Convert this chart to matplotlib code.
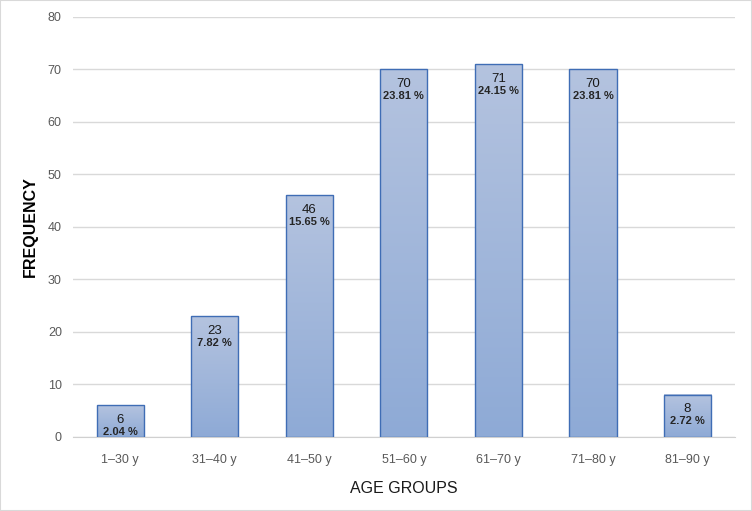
import numpy as np
import matplotlib.pyplot as plt
from matplotlib.colors import LinearSegmentedColormap
from matplotlib.patches import Rectangle

# Datos
grupos = ["1\u201330 y", "31\u201340 y", "41\u201350 y", "51\u201360 y", "61\u201370 y", "71\u201380 y", "81\u201390 y"]
frecuencia = [6, 23, 46, 70, 71, 70, 8]
porcentaje = ["2.04 %", "7.82 %", "15.65 %", "23.81 %", "24.15 %", "23.81 %", "2.72 %"]

plt.rcParams['font.family'] = ['Liberation Sans', 'DejaVu Sans']

fig = plt.figure(figsize=(7.52, 5.11), dpi=100)
ax = fig.add_axes([0.097, 0.145, 0.88, 0.822])

# degradado vertical (claro arriba, oscuro abajo)
cmap = LinearSegmentedColormap.from_list("azul", ["#8eaad6", "#b4c3df"])
grad = np.linspace(0, 1, 256).reshape(-1, 1)

x = np.arange(len(grupos))
ancho = 0.5
for xi, f, p in zip(x, frecuencia, porcentaje):
    ax.imshow(grad, cmap=cmap, origin="lower", aspect="auto",
              extent=[xi - ancho / 2, xi + ancho / 2, 0, f], zorder=2)
    ax.add_patch(Rectangle((xi - ancho / 2, 0), ancho, f, fill=False,
                           edgecolor="#3f6db5", linewidth=1.0, zorder=3))
    ax.text(xi, f - 1.6, str(f), ha="center", va="top", fontsize=9.5,
            color="#1a1a1a", zorder=4)
    ax.text(xi, f - 4.1, p, ha="center", va="top", fontsize=8,
            fontweight="bold", color="#262626", zorder=4)

ax.set_xlim(-0.5, len(grupos) - 0.5)
ax.set_ylim(0, 80)
ax.set_yticks(range(0, 81, 10))
ax.set_xticks(x)
ax.set_xticklabels(grupos)
ax.tick_params(axis="y", length=0, labelsize=9, colors="#595959", pad=8)
ax.tick_params(axis="x", length=0, labelsize=9, colors="#595959", pad=12)
ax.yaxis.grid(True, color="#d9d9d9", linewidth=1.0, zorder=0)
ax.set_axisbelow(True)
for s in ["top", "right", "left"]:
    ax.spines[s].set_visible(False)
ax.spines["bottom"].set_color("#d0d0d0")

ax.set_xlabel("AGE GROUPS", fontsize=11.5, color="#1a1a1a", labelpad=11)
ax.set_ylabel("FREQUENCY", fontsize=11.5, fontweight="bold", color="#000000", labelpad=7)

fig.patches.append(Rectangle((0, 0), 1, 1, transform=fig.transFigure, fill=False,
                             edgecolor="#d9d9d9", linewidth=1.5))

fig.savefig("out.png", dpi=100)
